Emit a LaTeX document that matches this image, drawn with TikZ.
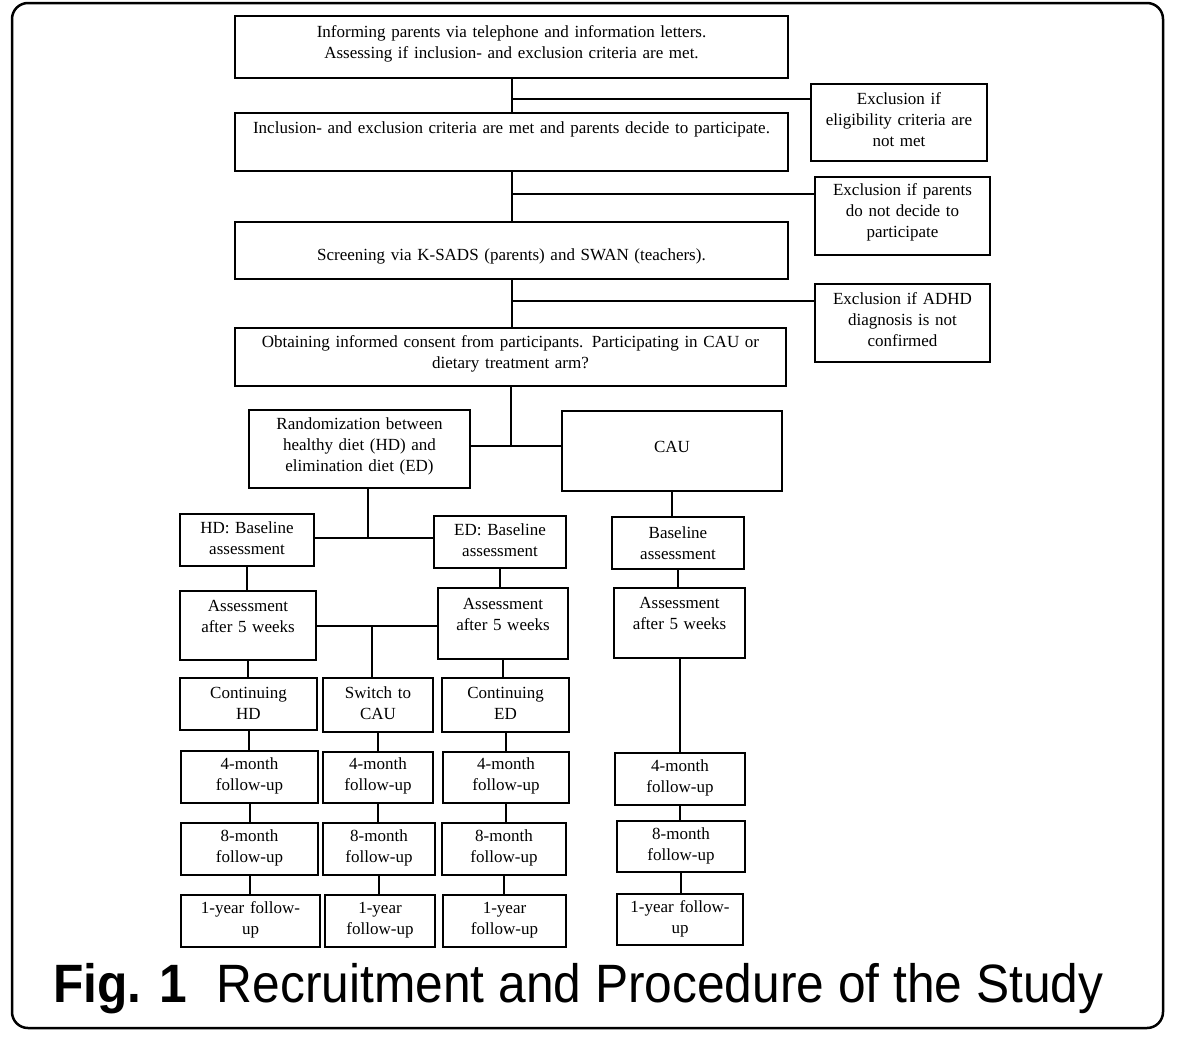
\documentclass[tikz,border=0pt]{standalone}
\usepackage{fontspec}
\setmainfont{Liberation Serif}
\newfontfamily\capfont{Liberation Sans}
\tikzset{
  boxst/.style={draw=black, line width=1.6pt, inner sep=0pt, rectangle},
  txtst/.style={inner sep=0pt, align=center, font=\fontsize{17}{21}\selectfont},
  conn/.style={draw=black, line width=2pt},
}
\newcommand\mybox[7]{%
  \pgfmathsetmacro\bw{#4-#2}%
  \pgfmathsetmacro\bh{#5-#3}%
  \pgfmathsetmacro\tw{#4-#2-6}%
  \pgfmathsetmacro\cx{(#2+#4)/2}%
  \pgfmathsetmacro\cy{(#3+#5)/2}%
  \node[boxst, minimum width=\bw pt, minimum height=\bh pt] (#1) at (\cx,\cy) {};
  \node[txtst, text width=\tw pt] (#1t) at (\cx,#6) {#7};
}
\begin{document}
\begin{tikzpicture}[x=1pt,y=-1pt]
\useasboundingbox (0,0) rectangle (1183,1050);
\draw[line width=2.5pt, rounded corners=16pt] (12,3) rectangle (1163,1028);

\mybox{top}{235}{16}{788}{78}{43.5}{Informing parents via telephone and information letters.\\ Assessing if inclusion- and exclusion criteria are met.}
\mybox{incl}{235}{113}{788}{171}{129}{Inclusion- and exclusion criteria are met and parents decide to participate.}
\mybox{exa}{811}{84}{987}{161}{120}{Exclusion if\\ eligibility criteria are\\ not met}
\mybox{exb}{815}{177}{990}{255}{212}{Exclusion if parents\\ do not decide to\\ participate}
\mybox{scr}{235}{222}{788}{279}{256}{Screening via K-SADS (parents) and SWAN (teachers).}
\mybox{exc}{815}{284}{990}{362}{320}{Exclusion if ADHD\\ diagnosis is not\\ confirmed}
\mybox{cons}{235}{328}{786}{386}{353.5}{Obtaining informed consent from participants. Participating in CAU or\\ dietary treatment arm?}
\mybox{rand}{249}{410}{470}{488}{446}{Randomization between\\ healthy diet (HD) and\\ elimination diet (ED)}
\mybox{cau}{562}{411}{782}{491}{447}{CAU}

\mybox{hdb}{180}{514}{314}{566}{538.5}{HD: Baseline\\ assessment}
\mybox{edb}{434}{516}{566}{568}{540.5}{ED: Baseline\\ assessment}
\mybox{cab}{612}{517}{744}{569}{543}{Baseline\\ assessment}

\mybox{hdf}{180}{591}{316}{660}{616.5}{Assessment\\ after 5 weeks}
\mybox{edf}{438}{588}{568}{659}{614.5}{Assessment\\ after 5 weeks}
\mybox{caf}{614}{588}{745}{658}{613.5}{Assessment\\ after 5 weeks}

\mybox{hdc}{180}{678}{317}{730}{703}{Continuing\\ HD}
\mybox{swc}{323}{678}{433}{732}{703}{Switch to\\ CAU}
\mybox{edc}{442}{678}{569}{732}{703}{Continuing\\ ED}

\mybox{hdm}{181}{751}{318}{803}{776}{4-month\\ follow-up}
\mybox{swm}{323}{752}{433}{803}{776}{4-month\\ follow-up}
\mybox{edm}{443}{752}{569}{803}{776}{4-month\\ follow-up}
\mybox{cam}{615}{753}{745}{805}{778}{4-month\\ follow-up}

\mybox{hde}{181}{823}{318}{875}{848}{8-month\\ follow-up}
\mybox{swe}{323}{823}{435}{875}{848}{8-month\\ follow-up}
\mybox{ede}{442}{823}{566}{875}{848}{8-month\\ follow-up}
\mybox{cae}{617}{821}{745}{872}{846}{8-month\\ follow-up}

\mybox{hdy}{181}{895}{320}{947}{920}{1-year follow-\\ up}
\mybox{swy}{325}{895}{435}{947}{920}{1-year\\ follow-up}
\mybox{edy}{443}{895}{566}{947}{920}{1-year\\ follow-up}
\mybox{cay}{617}{894}{743}{945}{919}{1-year follow-\\ up}

% trunk
\coordinate (ja) at (511,99);
\coordinate (jb) at (511,194);
\coordinate (jc) at (511,301);
\coordinate (jd) at (511,446);
\draw[conn] (top.south) -- (top.south |- incl.north);
\draw[conn] (ja) -- (ja -| exa.west);
\draw[conn] (incl.south) -- (incl.south |- scr.north);
\draw[conn] (jb) -- (jb -| exb.west);
\draw[conn] (scr.south) -- (scr.south |- cons.north);
\draw[conn] (jc) -- (jc -| exc.west);
\draw[conn] (cons.south) -- (cons.south |- jd);
\draw[conn] (rand.east |- jd) -- (cau.west |- jd);

% randomization split
\coordinate (re) at (368,538);
\draw[conn] (re |- rand.south) -- (re);
\draw[conn] (hdb.east |- re) -- (edb.west |- re);

% HD / ED chains
\draw[conn] (hdb.south) -- (hdb.south |- hdf.north);
\draw[conn] (edb.south) -- (edb.south |- edf.north);
\coordinate (sw) at (372,626);
\draw[conn] (hdf.east |- sw) -- (edf.west |- sw);
\draw[conn] (sw) -- (sw |- swc.north);
\draw[conn] (hdf.south) -- (hdf.south |- hdc.north);
\draw[conn] (edf.south) -- (edf.south |- edc.north);

\foreach \a/\b in {hdc/hdm, hdm/hde, hde/hdy, swc/swm, swm/swe, swe/swy, edc/edm, edm/ede, ede/edy}
  \draw[conn] (\a.south) -- (\a.south |- \b.north);

% CAU chain
\draw[conn] (cau.south) -- (cau.south |- cab.north);
\draw[conn] (cab.south) -- (cab.south |- caf.north);
\draw[conn] (caf.south) -- (caf.south |- cam.north);
\draw[conn] (cam.south) -- (cam.south |- cae.north);
\draw[conn] (cae.south) -- (cae.south |- cay.north);

\node[anchor=west, inner sep=0pt, font=\capfont\fontsize{54}{60}\selectfont] (cap) at (53,989)
  {\scalebox{0.92}[1]{\textbf{Fig. 1}\hspace{32pt}Recruitment and Procedure of the Study}};
\end{tikzpicture}
\end{document}
